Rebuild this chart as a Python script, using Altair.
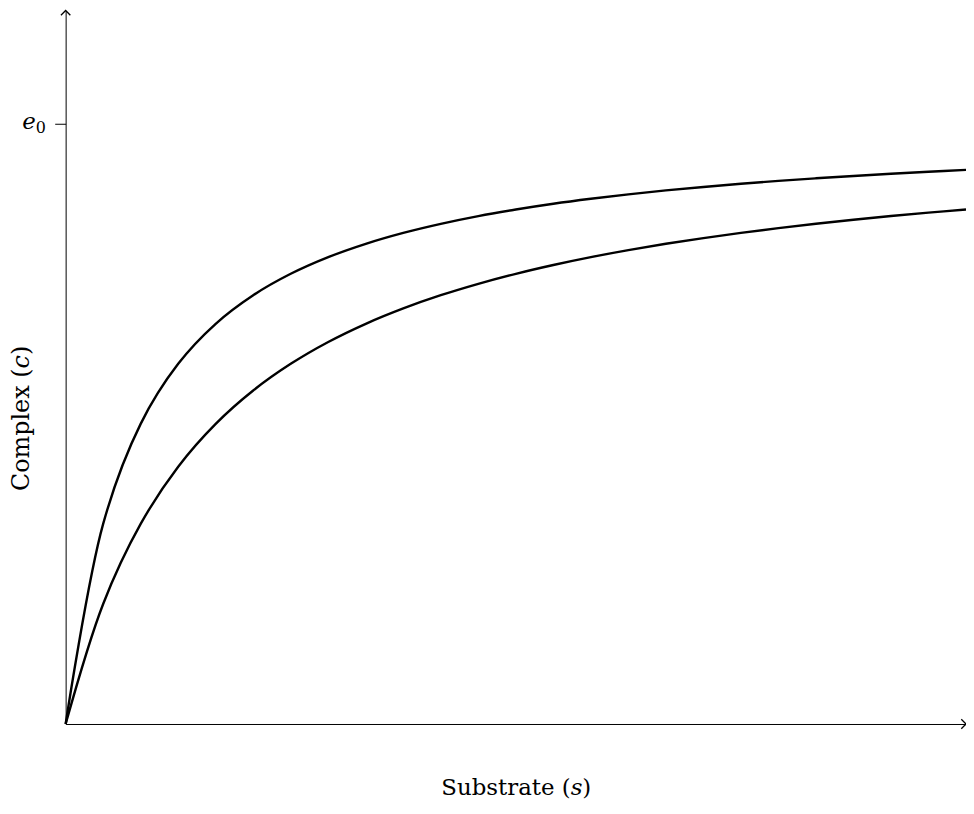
import altair as alt
import pandas as pd

# substrate samples (25 samples over the plotted domain)
substrate = [0, 1, 2, 3, 4, 5, 6, 7, 8, 9, 10, 11, 12,
             13, 14, 15, 16, 17, 18, 19, 20, 21, 22, 23, 24]

# complex concentration, as a fraction of e0
complex_upper = [0.0, 0.3333, 0.5000, 0.6000, 0.6667, 0.7143, 0.7500, 0.7778, 0.8000,
                 0.8182, 0.8333, 0.8462, 0.8571, 0.8667, 0.8750, 0.8824, 0.8889, 0.8947,
                 0.9000, 0.9048, 0.9091, 0.9130, 0.9167, 0.9200, 0.9231]
complex_lower = [0.0, 0.2000, 0.3333, 0.4286, 0.5000, 0.5556, 0.6000, 0.6364, 0.6667,
                 0.6923, 0.7143, 0.7333, 0.7500, 0.7647, 0.7778, 0.7895, 0.8000, 0.8095,
                 0.8182, 0.8261, 0.8333, 0.8400, 0.8462, 0.8519, 0.8571]

y_ticks = [1]
tick_symbol = ["e"]
tick_subscript = ["0"]

X_MAX = 24
Y_MAX = 1.1887

rows = []
for s, c in zip(substrate, complex_upper):
    rows.append({"s": s, "c": c, "curve": "upper"})
for s, c in zip(substrate, complex_lower):
    rows.append({"s": s, "c": c, "curve": "lower"})
df = pd.DataFrame(rows)

FONT = "DejaVu Serif"

xscale = alt.Scale(domain=[0, X_MAX], nice=False, zero=True)
yscale = alt.Scale(domain=[0, Y_MAX], nice=False, zero=True)

curves = alt.Chart(df).mark_line(color="black", strokeWidth=2.4, interpolate="catmull-rom").encode(
    x=alt.X("s:Q", scale=xscale,
            axis=alt.Axis(title="Substrate (𝑠)", ticks=False, labels=False, grid=False,
                          domainColor="black", domainWidth=1,
                          titleFont=FONT, titleFontSize=23, titleFontWeight="normal",
                          titleColor="black", titleY=64, titleBaseline="middle")),
    y=alt.Y("c:Q", scale=yscale,
            axis=alt.Axis(title="Complex (𝑐)", values=y_ticks, labels=False,
                          grid=False, domainColor="black", domainWidth=1,
                          tickColor="black", tickWidth=1, tickSize=11,
                          titleFont=FONT, titleFontSize=24, titleFontWeight="normal",
                          titleColor="black", titleX=-44, titleY=410, titleAngle=270,
                          titleBaseline="middle", titleAlign="center")),
    detail="curve:N",
)

tick_df = pd.DataFrame({"s": [0], "c": y_ticks, "sym": tick_symbol, "sub": tick_subscript})

tick_e = alt.Chart(tick_df).mark_text(
    font=FONT, fontSize=23, fontStyle="italic", color="black",
    align="right", baseline="alphabetic", dx=-30, dy=5).encode(
    x=alt.X("s:Q", scale=xscale), y=alt.Y("c:Q", scale=yscale), text="sym:N")

tick_0 = alt.Chart(tick_df).mark_text(
    font=FONT, fontSize=16, color="black",
    align="left", baseline="alphabetic", dx=-30, dy=9).encode(
    x=alt.X("s:Q", scale=xscale), y=alt.Y("c:Q", scale=yscale), text="sub:N")

arrow_up_df = pd.DataFrame({"s": [0], "c": [Y_MAX]})
arrow_right_df = pd.DataFrame({"s": [X_MAX], "c": [0]})

arrow_up = alt.Chart(arrow_up_df).mark_point(
    shape="M -1 1 L 0 0 L 1 1", filled=False, stroke="black", strokeWidth=1.3,
    size=90, opacity=1).encode(x=alt.X("s:Q", scale=xscale), y=alt.Y("c:Q", scale=yscale))

arrow_right = alt.Chart(arrow_right_df).mark_point(
    shape="M -1 -1 L 0 0 L -1 1", filled=False, stroke="black", strokeWidth=1.3,
    size=90, opacity=1).encode(x=alt.X("s:Q", scale=xscale), y=alt.Y("c:Q", scale=yscale))

chart = alt.layer(curves, tick_e, tick_0, arrow_up, arrow_right).properties(
    width=906, height=718,
    autosize=alt.AutoSizeParams(type="none"),
    padding={"left": 58, "top": 0, "right": 0, "bottom": 76},
    background="white",
).configure_view(stroke=None)

chart.save("out.html", embed_options={"renderer": "svg", "actions": False})
